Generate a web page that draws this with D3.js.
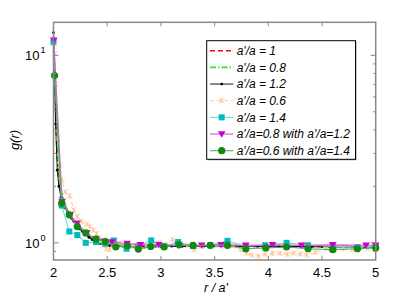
<!DOCTYPE html>
<html><head><meta charset="utf-8">
<script src="https://cdn.jsdelivr.net/npm/d3@7"></script>
<style>html,body{margin:0;padding:0;background:#fff;}svg{display:block;}</style>
</head><body>
<svg id="chart" width="415" height="295"></svg>
<script>
// ---- data ----
const xTicks = [2, 2.5, 3, 3.5, 4, 4.5, 5];
const xTickLabels = ["2", "2.5", "3", "3.5", "4", "4.5", "5"];
const yMajorTicks = [1, 10];
const yMinorTicks = [0.9, 2, 3, 4, 5, 6, 7, 8, 9];
const legendLabels = ["a'/a = 1", "a'/a = 0.8", "a'/a = 1.2", "a'/a = 0.6", "a'/a = 1.4",
  "a'/a=0.8 with a'/a=1.2", "a'/a=0.6 with a'/a=1.4"];

const r1 = [2.00,2.01,2.02,2.03,2.04,2.06,2.08,2.10,2.13,2.16,2.20,2.25,2.30,2.35,2.40,2.45,2.50,2.60,2.70,2.80,2.90,3.00,3.20,3.40,3.60,3.80,4.00,4.20,4.40,4.60,4.80,5.00];
const g1 = [12.6,8.2,4.9,3.3,2.6,2.0,1.75,1.6,1.46,1.37,1.27,1.18,1.11,1.06,1.02,1.0,0.985,0.97,0.965,0.965,0.96,0.962,0.96,0.962,0.958,0.958,0.955,0.955,0.953,0.952,0.95,0.95];

const r2 = [2.00,2.01,2.02,2.03,2.04,2.06,2.08,2.10,2.13,2.16,2.20,2.25,2.30,2.35,2.40,2.45,2.50,2.60,2.70,2.80,2.90,3.00,3.20,3.40,3.60,3.80,4.00,4.20,4.40,4.60,4.80,5.00];
const g2 = [12.0,8.5,5.2,3.5,2.7,2.1,1.82,1.66,1.5,1.4,1.3,1.2,1.13,1.08,1.04,1.01,0.995,0.98,0.975,0.975,0.97,0.97,0.968,0.965,0.965,0.962,0.96,0.96,0.958,0.958,0.957,0.955];

const r3 = [2.00,2.01,2.02,2.035,2.05,2.07,2.09,2.11,2.13,2.15,2.17,2.19,2.21,2.23,2.25,2.27,2.30,2.33,2.36,2.40,2.44,2.48,2.52,2.56,2.60,2.65,2.70,2.75,2.80,2.85,2.90,2.95,3.00,3.10,3.20,3.30,3.40,3.50,3.60,3.70,3.80,3.90,4.00,4.10,4.20,4.30,4.40,4.50,4.60,4.70,4.80,4.90,5.00];
const g3 = [13.2,8.0,4.3,2.44,2.0,1.75,1.6,1.53,1.47,1.41,1.35,1.3,1.25,1.21,1.18,1.15,1.11,1.07,1.04,1.01,0.99,0.975,0.965,0.96,0.955,0.955,0.95,0.952,0.955,0.95,0.955,0.958,0.955,0.96,0.958,0.955,0.96,0.962,0.958,0.96,0.955,0.958,0.955,0.955,0.958,0.955,0.952,0.955,0.95,0.952,0.95,0.95,0.948];

const r4 = [2.00,2.01,2.02,2.04,2.06,2.08,2.11,2.15,2.19,2.22,2.26,2.31,2.34,2.37,2.40,2.43,2.46,2.49,2.52,2.55,2.58,2.61,2.65,2.70,2.75,2.80,2.86,2.92,2.98,3.04,3.11,3.18,3.25,3.31,3.38,3.45,3.52,3.60,3.67,3.74,3.80,3.85,3.91,3.97,4.04,4.11,4.18,4.24,4.30,4.36,4.44,4.54,4.62,4.70,4.78,4.86,4.93,5.00];
const g4 = [11.5,10.2,7.0,3.6,2.6,2.15,1.87,1.78,1.5,1.38,1.30,1.26,1.22,1.17,1.12,1.06,0.97,0.93,0.92,0.97,1.03,1.0,0.97,0.96,0.97,0.98,0.965,0.97,1.0,0.98,1.04,0.99,0.97,0.92,0.96,0.98,0.97,0.96,0.97,0.92,0.88,0.86,0.85,0.87,0.88,0.88,0.87,0.88,0.87,0.86,0.89,0.93,0.92,0.93,0.92,0.94,0.93,0.95];

const r5 = [2.00,2.076,2.147,2.222,2.30,2.396,2.482,2.56,2.68,2.79,2.91,3.03,3.16,3.30,3.46,3.62,3.79,3.97,4.17,4.37,4.60,4.83,5.00];
const g5 = [11.8,1.58,1.15,1.10,1.0,1.01,0.99,1.03,0.93,0.96,1.03,0.96,1.01,0.96,0.97,1.025,0.96,0.97,1.0,0.97,0.96,0.95,0.96];

const r6 = [2.003,2.08,2.156,2.22,2.31,2.39,2.47,2.545,2.685,2.81,2.98,3.16,3.38,3.56,3.79,4.04,4.31,4.60,4.91,5.00];
const g6 = [12.0,1.66,1.41,1.27,1.13,1.05,1.02,1.01,0.99,0.975,0.975,0.97,0.97,0.975,0.97,0.975,0.97,0.975,0.97,0.97];

const r7 = [2.01,2.076,2.147,2.222,2.30,2.396,2.482,2.58,2.687,2.79,2.905,3.03,3.17,3.30,3.46,3.62,3.79,3.976,4.17,4.37,4.60,4.83,5.00];
const g7 = [7.8,1.63,1.41,1.22,1.13,1.046,1.016,0.95,0.964,0.926,0.956,0.95,0.976,0.97,0.97,0.97,0.93,0.94,0.95,0.93,0.92,0.93,0.94];

// ---- styles ----
const series = [
  {r: r1, g: g1, line: "#ff0000", width: 1.6, dash: "5,3", marker: null, mcolor: null},
  {r: r2, g: g2, line: "#22ee22", width: 1.6, dash: "6,2,1.5,2", marker: null, mcolor: null},
  {r: r3, g: g3, line: "#000000", width: 0.9, dash: null, marker: "dot", mcolor: "#000000"},
  {r: r4, g: g4, line: "#ffcc99", width: 1.1, dash: "4,3", marker: "x", mcolor: "#ffc48f"},
  {r: r5, g: g5, line: "#66dddd", width: 1.1, dash: null, marker: "square", mcolor: "#00bbbb"},
  {r: r6, g: g6, line: "#dd55dd", width: 1.1, dash: null, marker: "tri", mcolor: "#cc00cc"},
  {r: r7, g: g7, line: "#55aa77", width: 1.1, dash: null, marker: "circle", mcolor: "#118811"}
];

const svg = d3.select("#chart");
const L = 53.5, R = 375.7, T = 22.3, B = 260;
const x = d3.scaleLinear().domain([2, 5]).range([L, R]);
const y = d3.scaleLog().domain([0.81, 15]).range([B, T]);

const axisColor = "#888888";
const font = "'Liberation Sans', Arial, Helvetica, sans-serif";

const lineGen = d3.line().x(d => x(d[0])).y(d => y(d[1]));
const plot = svg.append("g");

function drawMarker(sel, type, color, cx, cy) {
  if (type === "dot") {
    sel.append("circle").attr("cx", cx).attr("cy", cy).attr("r", 1.4).attr("fill", color);
  } else if (type === "x") {
    const s = 2.6;
    sel.append("path").attr("d", `M${cx-s},${cy-s}L${cx+s},${cy+s}M${cx-s},${cy+s}L${cx+s},${cy-s}M${cx},${cy-s}L${cx},${cy+s}`)
      .attr("stroke", color).attr("stroke-width", 1).attr("fill", "none");
  } else if (type === "square") {
    const s = 3;
    sel.append("rect").attr("x", cx - s).attr("y", cy - s).attr("width", 2*s).attr("height", 2*s).attr("fill", color);
  } else if (type === "tri") {
    const s = 3.8;
    sel.append("path").attr("d", `M${cx-s},${cy-s*0.75}L${cx+s},${cy-s*0.75}L${cx},${cy+s*0.95}Z`).attr("fill", color);
  } else if (type === "circle") {
    sel.append("circle").attr("cx", cx).attr("cy", cy).attr("r", 3.6).attr("fill", color);
  }
}

series.forEach(s => {
  const pts = s.r.map((rv, i) => [rv, s.g[i]]);
  plot.append("path").datum(pts).attr("d", lineGen)
    .attr("fill", "none").attr("stroke", s.line).attr("stroke-width", s.width)
    .attr("stroke-dasharray", s.dash);
  if (s.marker) {
    const mg = plot.append("g");
    pts.forEach(p => drawMarker(mg, s.marker, s.mcolor, x(p[0]), y(p[1])));
  }
});

// frame
const frame = svg.append("g");
frame.append("rect").attr("x", L).attr("y", T).attr("width", R - L).attr("height", B - T)
  .attr("fill", "none").attr("stroke", axisColor).attr("stroke-width", 1.5);

// x ticks (bottom & top, inward)
xTicks.forEach((t, i) => {
  const px = x(t);
  if (i > 0 && i < xTicks.length - 1) {
    frame.append("line").attr("x1", px).attr("x2", px).attr("y1", B).attr("y2", B - 4).attr("stroke", axisColor).attr("stroke-width", 1);
    frame.append("line").attr("x1", px).attr("x2", px).attr("y1", T).attr("y2", T + 4).attr("stroke", axisColor).attr("stroke-width", 1);
  }
  svg.append("text").attr("x", px).attr("y", 276.5).attr("text-anchor", "middle")
    .attr("font-family", font).attr("font-size", 13).attr("fill", "#000").text(xTickLabels[i]);
});

// y ticks
yMajorTicks.forEach(t => {
  const py = y(t);
  frame.append("line").attr("x1", L).attr("x2", L + 5).attr("y1", py).attr("y2", py).attr("stroke", axisColor).attr("stroke-width", 1);
  frame.append("line").attr("x1", R).attr("x2", R - 5).attr("y1", py).attr("y2", py).attr("stroke", axisColor).attr("stroke-width", 1);
  svg.append("text").attr("x", 39.5).attr("y", py + 5).attr("text-anchor", "end")
    .attr("font-family", font).attr("font-size", 13).attr("fill", "#000").text("10");
  svg.append("text").attr("x", 40.5).attr("y", py - 2).attr("font-family", font).attr("font-size", 9)
    .attr("fill", "#000").text(String(Math.round(Math.log10(t))));
});
yMinorTicks.forEach(t => {
  const py = y(t);
  frame.append("line").attr("x1", L).attr("x2", L + 2.5).attr("y1", py).attr("y2", py).attr("stroke", axisColor).attr("stroke-width", 1);
  frame.append("line").attr("x1", R).attr("x2", R - 2.5).attr("y1", py).attr("y2", py).attr("stroke", axisColor).attr("stroke-width", 1);
});

// axis labels
svg.append("text").attr("x", 216).attr("y", 291.5).attr("text-anchor", "middle")
  .attr("font-family", font).attr("font-size", 12.5).attr("font-style", "italic").attr("fill", "#000").text("r / a'");
svg.append("text").attr("transform", "translate(19,140) rotate(-90)").attr("text-anchor", "middle")
  .attr("font-family", font).attr("font-size", 13).attr("font-style", "italic").attr("fill", "#000").text("g(r)");

// legend
const lg = svg.append("g");
const lx = 206.7, ly = 40.7, lw = 148.8, lh = 118.6;
lg.append("rect").attr("x", lx + 1).attr("y", ly + 1).attr("width", lw).attr("height", lh).attr("fill", "#999");
lg.append("rect").attr("x", lx).attr("y", ly).attr("width", lw).attr("height", lh).attr("fill", "#fff")
  .attr("stroke", "#000").attr("stroke-width", 1);
series.forEach((s, i) => {
  const cy = 50.7 + i * 16.67;
  lg.append("line").attr("x1", 210).attr("x2", 233.5).attr("y1", cy).attr("y2", cy)
    .attr("stroke", s.line).attr("stroke-width", s.width).attr("stroke-dasharray", s.dash);
  if (s.marker) drawMarker(lg, s.marker, s.mcolor, 221.7, cy);
  lg.append("text").attr("x", 236.7).attr("y", cy + 4.3).attr("font-family", font).attr("font-size", 12)
    .attr("font-style", "italic").attr("fill", "#000").text(legendLabels[i]);
});
</script>
</body></html>
